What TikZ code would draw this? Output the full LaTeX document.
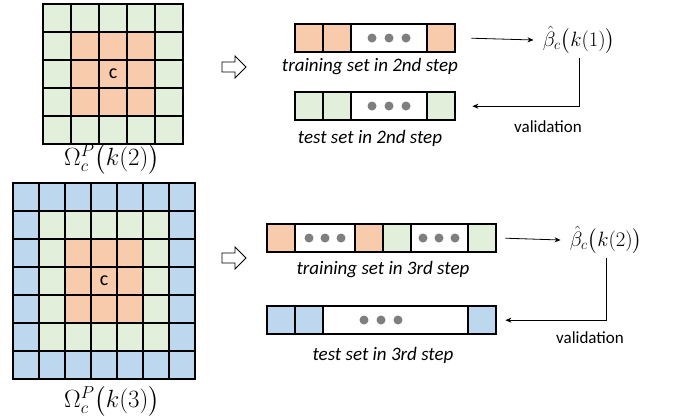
\documentclass[tikz,border=0pt]{standalone}
\usepackage[no-math]{fontspec}
\setmainfont{Carlito}
\usepackage{amsmath}
\usetikzlibrary{arrows.meta}

\definecolor{cellorange}{HTML}{F8CBAD}
\definecolor{cellgreen}{HTML}{E2EFDA}
\definecolor{cellblue}{HTML}{BDD7EE}
\definecolor{dotgray}{HTML}{7F7F7F}

\begin{document}
\begin{tikzpicture}[x=1pt,y=-1pt,
  gridline/.style={line width=2.4pt,line cap=rect},
  barcell/.style={draw=black,line width=2pt},
  barframe/.style={draw=none,inner sep=0pt,minimum height=28pt,anchor=north west},
  caption/.style={font=\fontsize{19}{22}\selectfont\itshape,inner sep=0pt},
  plain/.style={font=\fontsize{17}{20}\selectfont,inner sep=0pt},
  centre/.style={font=\fontsize{20}{24}\selectfont,inner sep=0pt},
  mathlbl/.style={font=\fontsize{20}{24}\selectfont,inner sep=0pt},
  setlbl/.style={font=\fontsize{23}{27}\selectfont,inner sep=0pt},
  hollow/.style={draw=black,line width=0.8pt,fill=white,line join=miter},
  flow/.style={line width=0.8pt,-{Stealth[length=6pt,width=5pt]}},
  dot/.style={fill=dotgray}]
\useasboundingbox (0,0) rectangle (681,416);

% ---- 5x5 neighbourhood, step 2 ----
\foreach \i in {0,...,4}{
  \foreach \j in {0,...,4}{
    \pgfmathtruncatemacro\ring{min(min(\i,\j),min(4-\i,4-\j))}
    \ifnum\ring=0 \def\cc{cellgreen}\else\def\cc{cellorange}\fi
    \fill[\cc] (43+28*\i,4+28*\j) rectangle (43+28*\i+28,4+28*\j+28);
  }
}
\foreach \k in {0,...,5}{
  \draw[gridline] (43+28*\k,4) -- (43+28*\k,144);
  \draw[gridline] (43,4+28*\k) -- (183,4+28*\k);
}
\node[centre] (c2) at (113,74) {c};
\node[setlbl] (om2) at (112,159) {$\Omega_c^P\bigl(k(2)\bigr)$};

% ---- 7x7 neighbourhood, step 3 ----
\foreach \i in {0,...,6}{
  \foreach \j in {0,...,6}{
    \pgfmathtruncatemacro\ring{min(min(\i,\j),min(6-\i,6-\j))}
    \ifcase\ring \def\cc{cellblue}\or\def\cc{cellgreen}\else\def\cc{cellorange}\fi
    \fill[\cc] (13+26*\i,183+28*\j) rectangle (13+26*\i+26,183+28*\j+28);
  }
}
\foreach \k in {0,...,7}{
  \draw[gridline] (13+26*\k,183) -- (13+26*\k,379);
  \draw[gridline] (13,183+28*\k) -- (195,183+28*\k);
}
\node[centre] (c3) at (104,281) {c};
\node[setlbl] (om3) at (112,401) {$\Omega_c^P\bigl(k(3)\bigr)$};

% ---- hollow block arrows ----
\draw[hollow] (222,62) -- (235,62) -- (235,56) -- (246,67) -- (235,78) -- (235,72) -- (222,72) -- cycle;
\draw[hollow] (222,253) -- (235,253) -- (235,247) -- (246,258) -- (235,269) -- (235,263) -- (222,263) -- cycle;

% ---- training set, 2nd step ----
\node[barframe,minimum width=160pt] (tr2) at (295,24) {};
\draw[barcell,fill=cellorange] (295,24) rectangle (323,52);
\draw[barcell,fill=cellorange] (323,24) rectangle (351,52);
\draw[barcell,fill=white] (351,24) rectangle (427,52);
\draw[barcell,fill=cellorange] (427,24) rectangle (455,52);
\foreach \x in {372,389,406} \fill[dot] (\x,38) circle (4.5pt);
\node[caption] (ttr2) at (370,67) {training set in 2nd step};

% ---- test set, 2nd step ----
\node[barframe,minimum width=160pt] (te2) at (295,92) {};
\draw[barcell,fill=cellgreen] (295,92) rectangle (323,120);
\draw[barcell,fill=cellgreen] (323,92) rectangle (351,120);
\draw[barcell,fill=white] (351,92) rectangle (427,120);
\draw[barcell,fill=cellgreen] (427,92) rectangle (455,120);
\foreach \x in {372,389,406} \fill[dot] (\x,106) circle (4.5pt);
\node[caption] (tte2) at (370,138) {test set in 2nd step};

% ---- training set, 3rd step ----
\node[barframe,minimum width=229pt] (tr3) at (267,224) {};
\draw[barcell,fill=cellorange] (267,224) rectangle (295,252);
\draw[barcell,fill=white] (295,224) rectangle (355,252);
\draw[barcell,fill=cellorange] (355,224) rectangle (383,252);
\draw[barcell,fill=cellgreen] (383,224) rectangle (411,252);
\draw[barcell,fill=white] (411,224) rectangle (468,252);
\draw[barcell,fill=cellgreen] (468,224) rectangle (496,252);
\foreach \x in {309,325,341,423,439,455} \fill[dot] (\x,238) circle (4.5pt);
\node[caption] (ttr3) at (383,270) {training set in 3rd step};

% ---- test set, 3rd step ----
\node[barframe,minimum width=229pt] (te3) at (267,306) {};
\draw[barcell,fill=cellblue] (267,306) rectangle (295,334);
\draw[barcell,fill=cellblue] (295,306) rectangle (323,334);
\draw[barcell,fill=white] (323,306) rectangle (468,334);
\draw[barcell,fill=cellblue] (468,306) rectangle (496,334);
\foreach \x in {364,381,398} \fill[dot] (\x,320) circle (4.5pt);
\node[caption] (tte3) at (383,355) {test set in 3rd step};

% ---- estimates and validation loops ----
\node[mathlbl] (b1) at (579,40) {$\hat\beta_c\bigl(k(1)\bigr)$};
\node[mathlbl] (b2) at (606,240) {$\hat\beta_c\bigl(k(2)\bigr)$};

\draw[flow] ([xshift=16pt]tr2.east) -- ([xshift=-9pt]b1.west);
\draw[flow] ([xshift=9pt]tr3.east) -- ([xshift=-9pt]b2.west);
\draw[flow] ([yshift=-4pt]b1.south) |- ([xshift=17pt]te2.east);
\draw[flow] ([yshift=-4pt]b2.south) |- ([xshift=9pt]te3.east);

\node[plain] (v1) at (548,127) {validation};
\node[plain] (v2) at (590,338) {validation};
\end{tikzpicture}
\end{document}
